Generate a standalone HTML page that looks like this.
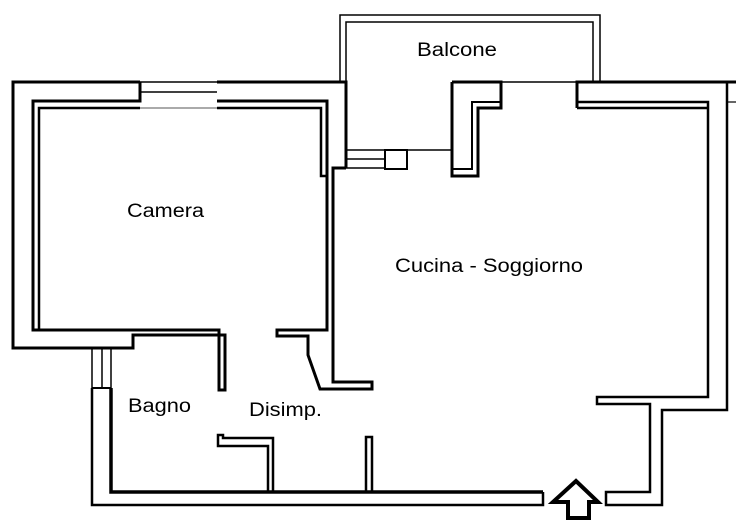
<!DOCTYPE html>
<html><head><meta charset="utf-8"><style>
html,body{margin:0;padding:0;background:#fff;}
svg{display:block}
text{font-family:"Liberation Sans",Arial,sans-serif;font-size:19px;fill:#000}
</style></head><body>
<svg width="736" height="520" viewBox="0 0 736 520" xmlns="http://www.w3.org/2000/svg">
<g fill="none" stroke="#000" stroke-width="2.5" stroke-linejoin="miter">
<!-- Balcone -->
<polyline points="340,82 340,15 600,15 600,82" stroke-width="1.5"/>
<polyline points="346,82 346,22 593,22 593,82" stroke-width="1.5"/>
<line x1="501" y1="82" x2="577" y2="82" stroke-width="1.5"/>
<!-- Camera -->
<polyline points="140,82 13,82 13,348 133,348 133,335 225,335 225,390 219,390 219,330 33,330 33,101 140,101 140,82" stroke-width="3"/>
<polyline points="39,330 39,108 140,108"/>
<!-- camera window -->
<line x1="140" y1="82" x2="217" y2="82" stroke-width="1.5"/>
<line x1="140" y1="92" x2="217" y2="92" stroke-width="1.5"/>
<line x1="140" y1="108" x2="217" y2="108" stroke-width="1.2" stroke="#777"/>
<!-- camera right wall top -->
<polyline points="217,82 346,82 346,168" stroke-width="3"/>
<polyline points="217,101 327,101 327,330 277,330 277,336 308,336 308,355 320,389 372,389 372,382 333,382 333,168 346,168" stroke-width="3"/>
<polyline points="217,108 321,108 321,176 327,176" stroke-width="2.5"/>
<!-- window into balcone -->
<line x1="346" y1="150" x2="385" y2="150" stroke-width="1.5"/>
<line x1="346" y1="159" x2="385" y2="159" stroke-width="1.5"/>
<line x1="346" y1="168" x2="385" y2="168" stroke-width="1.5"/>
<rect x="385" y="150" width="22" height="19" stroke-width="2"/>
<line x1="407" y1="150" x2="452" y2="150" stroke-width="1.5"/>
<!-- pillar -->
<polyline points="452,82 501,82 501,108 478,108 478,176 452,176 452,82" stroke-width="3"/>
<polyline points="452,169 472,169 472,102 501,102" stroke-width="2"/>
<!-- right wall -->
<polyline points="577,108 577,82 736,82" stroke-width="3"/>
<polyline points="577,102 708,102 708,397 597,397 597,404 650,404 650,492 606,492 606,505 662,505 662,410 727,410 727,82" stroke-width="2.5"/>
<line x1="577" y1="108" x2="708" y2="108" stroke-width="2.5"/>
<line x1="727" y1="102" x2="736" y2="102" stroke-width="1.2"/>
<!-- bottom-left -->
<line x1="92" y1="348" x2="92" y2="388" stroke-width="1.5"/>
<line x1="102" y1="348" x2="102" y2="388" stroke-width="1.5"/>
<line x1="111" y1="348" x2="111" y2="388" stroke-width="1.5"/>
<polyline points="92,388 111,388" stroke-width="2"/>
<polyline points="92,388 92,505 543,505 543,492" stroke-width="2.5"/>
<polyline points="111,388 111,492 543,492" stroke-width="3.5"/>
<!-- stubs -->
<polyline points="268,492 268,446 218,446 218,435 223,435 223,438 273,438 273,492" stroke-width="2.5"/>
<polyline points="366,492 366,437 372,437 372,492" stroke-width="2.5"/>
<!-- arrow -->
<polygon points="576,481 553,502 568,502 568,518 589,518 589,502 598,502" stroke-width="4"/>
</g>
<text x="417" y="56" textLength="80" lengthAdjust="spacingAndGlyphs">Balcone</text>
<text x="127" y="217" textLength="77" lengthAdjust="spacingAndGlyphs">Camera</text>
<text x="395" y="272" textLength="188" lengthAdjust="spacingAndGlyphs">Cucina - Soggiorno</text>
<text x="128" y="412" textLength="63" lengthAdjust="spacingAndGlyphs">Bagno</text>
<text x="249" y="416" textLength="73" lengthAdjust="spacingAndGlyphs">Disimp.</text>
</svg>
</body></html>
